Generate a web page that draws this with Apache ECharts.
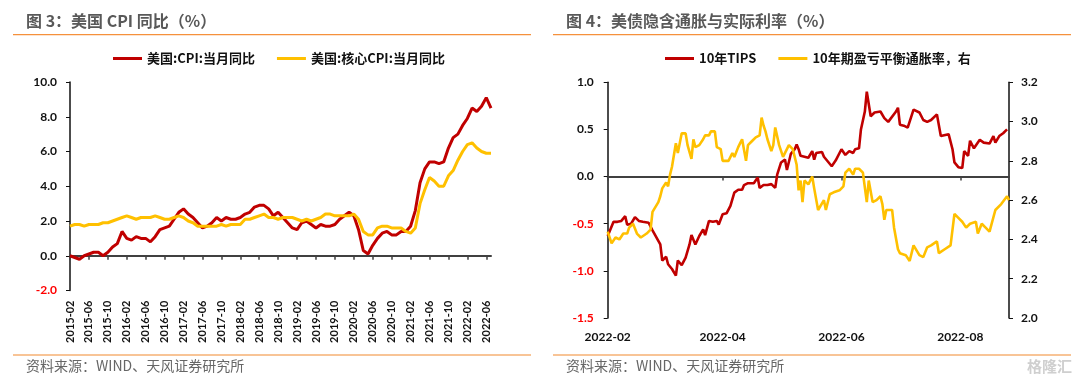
<!DOCTYPE html>
<html><head><meta charset="utf-8">
<script src="https://cdn.jsdelivr.net/npm/echarts@6/dist/echarts.min.js"></script>
<style>html,body{margin:0;padding:0;background:#fff}#c{width:1080px;height:383px}</style>
</head><body><div id="c"></div>
<script>
// ---------- Left chart: US CPI YoY ----------
const cpiMonths = [
 '2015-02','2015-03','2015-04','2015-05','2015-06','2015-07','2015-08','2015-09','2015-10','2015-11','2015-12',
 '2016-01','2016-02','2016-03','2016-04','2016-05','2016-06','2016-07','2016-08','2016-09','2016-10','2016-11','2016-12',
 '2017-01','2017-02','2017-03','2017-04','2017-05','2017-06','2017-07','2017-08','2017-09','2017-10','2017-11','2017-12',
 '2018-01','2018-02','2018-03','2018-04','2018-05','2018-06','2018-07','2018-08','2018-09','2018-10','2018-11','2018-12',
 '2019-01','2019-02','2019-03','2019-04','2019-05','2019-06','2019-07','2019-08','2019-09','2019-10','2019-11','2019-12',
 '2020-01','2020-02','2020-03','2020-04','2020-05','2020-06','2020-07','2020-08','2020-09','2020-10','2020-11','2020-12',
 '2021-01','2021-02','2021-03','2021-04','2021-05','2021-06','2021-07','2021-08','2021-09','2021-10','2021-11','2021-12',
 '2022-01','2022-02','2022-03','2022-04','2022-05','2022-06','2022-07'];
const cpiYoY = [
 0.0,-0.1,-0.2,0.0,0.1,0.2,0.2,0.0,0.2,0.5,0.7,
 1.4,1.0,0.9,1.1,1.0,1.0,0.8,1.1,1.5,1.6,1.7,2.1,
 2.5,2.7,2.4,2.2,1.9,1.6,1.7,1.9,2.2,2.0,2.2,2.1,
 2.1,2.2,2.4,2.5,2.8,2.9,2.9,2.7,2.3,2.5,2.2,1.9,
 1.6,1.5,1.9,2.0,1.8,1.6,1.8,1.7,1.7,1.8,2.1,2.3,
 2.5,2.3,1.5,0.3,0.1,0.6,1.0,1.3,1.4,1.2,1.2,1.4,
 1.4,1.7,2.6,4.2,5.0,5.4,5.4,5.3,5.4,6.2,6.8,7.0,
 7.5,7.9,8.5,8.3,8.6,9.1,8.5];
const coreYoY = [
 1.7,1.8,1.8,1.7,1.8,1.8,1.8,1.9,1.9,2.0,2.1,
 2.2,2.3,2.2,2.1,2.2,2.2,2.2,2.3,2.2,2.1,2.1,2.2,
 2.3,2.2,2.0,1.9,1.7,1.7,1.7,1.7,1.7,1.8,1.7,1.8,
 1.8,1.8,2.1,2.1,2.2,2.3,2.4,2.2,2.2,2.1,2.2,2.2,
 2.2,2.1,2.0,2.1,2.0,2.1,2.2,2.4,2.4,2.3,2.3,2.3,
 2.3,2.4,2.1,1.4,1.2,1.2,1.6,1.7,1.7,1.6,1.6,1.6,
 1.4,1.3,1.6,3.0,3.8,4.5,4.3,4.0,4.0,4.6,4.9,5.5,
 6.0,6.4,6.5,6.2,6.0,5.9,5.9];

// ---------- Right chart: 10Y TIPS and breakeven ----------
const tipsDates = ['2022-02-01','2022-02-04','2022-02-06','2022-02-08','2022-02-10','2022-02-11','2022-02-13','2022-02-15','2022-02-17','2022-02-19','2022-02-22','2022-02-24','2022-02-25','2022-02-28',
 '2022-03-01','2022-03-03','2022-03-04','2022-03-06','2022-03-08','2022-03-09','2022-03-11','2022-03-13','2022-03-15','2022-03-16','2022-03-18','2022-03-20','2022-03-22','2022-03-23','2022-03-25','2022-03-27','2022-03-29','2022-03-30','2022-03-31',
 '2022-04-01','2022-04-03','2022-04-05','2022-04-07','2022-04-09','2022-04-11','2022-04-12','2022-04-14','2022-04-17','2022-04-19','2022-04-20','2022-04-22','2022-04-24','2022-04-26','2022-04-28','2022-04-29',
 '2022-05-01','2022-05-03','2022-05-04','2022-05-06','2022-05-08','2022-05-09','2022-05-10','2022-05-11','2022-05-13','2022-05-15','2022-05-17','2022-05-18','2022-05-19','2022-05-22','2022-05-23','2022-05-25','2022-05-27','2022-05-29',
 '2022-06-01','2022-06-03','2022-06-05','2022-06-07','2022-06-08','2022-06-10','2022-06-11','2022-06-13','2022-06-14','2022-06-16','2022-06-18','2022-06-21','2022-06-23','2022-06-25','2022-06-26','2022-06-29','2022-06-30',
 '2022-07-01','2022-07-03','2022-07-05','2022-07-08','2022-07-11','2022-07-13','2022-07-15','2022-07-17','2022-07-20','2022-07-22','2022-07-26','2022-07-28','2022-07-29','2022-07-31',
 '2022-08-02','2022-08-03','2022-08-05','2022-08-06','2022-08-08','2022-08-11','2022-08-13','2022-08-16','2022-08-18','2022-08-19','2022-08-21','2022-08-23','2022-08-25'];
const tipsValues = [-0.63,-0.48,-0.48,-0.47,-0.42,-0.51,-0.50,-0.43,-0.47,-0.48,-0.49,-0.57,-0.59,-0.72,
 -0.89,-0.85,-0.93,-0.98,-1.05,-0.89,-0.94,-0.86,-0.72,-0.62,-0.72,-0.63,-0.56,-0.62,-0.47,-0.48,-0.47,-0.51,-0.53,
 -0.40,-0.39,-0.31,-0.17,-0.14,-0.14,-0.09,-0.07,-0.07,-0.01,-0.12,-0.09,-0.09,-0.08,-0.12,0.02,
 0.15,0.18,0.07,0.24,0.29,0.34,0.29,0.22,0.21,0.20,0.27,0.18,0.25,0.26,0.21,0.16,0.11,0.17,
 0.29,0.23,0.27,0.25,0.29,0.30,0.50,0.69,0.90,0.64,0.68,0.69,0.62,0.58,0.60,0.69,0.73,
 0.55,0.54,0.52,0.71,0.68,0.60,0.58,0.60,0.66,0.43,0.45,0.29,0.15,0.10,
 0.09,0.27,0.22,0.38,0.30,0.39,0.36,0.35,0.43,0.36,0.43,0.46,0.50];
const beDates = ['2022-02-01','2022-02-03','2022-02-05','2022-02-07','2022-02-09','2022-02-11','2022-02-12','2022-02-14','2022-02-16','2022-02-18','2022-02-21','2022-02-23','2022-02-24','2022-02-25','2022-02-27','2022-02-28',
 '2022-03-01','2022-03-03','2022-03-04','2022-03-05','2022-03-06','2022-03-08','2022-03-09','2022-03-11','2022-03-13','2022-03-14','2022-03-16','2022-03-17','2022-03-18','2022-03-20','2022-03-22','2022-03-23','2022-03-25','2022-03-26','2022-03-28','2022-03-29','2022-03-31',
 '2022-04-01','2022-04-04','2022-04-06','2022-04-07','2022-04-09','2022-04-10','2022-04-11','2022-04-13','2022-04-14','2022-04-16','2022-04-18','2022-04-20','2022-04-21','2022-04-22','2022-04-23','2022-04-24','2022-04-26','2022-04-27','2022-04-28','2022-04-30',
 '2022-05-02','2022-05-04','2022-05-05','2022-05-07','2022-05-09','2022-05-10','2022-05-11','2022-05-12','2022-05-13','2022-05-15','2022-05-17','2022-05-18','2022-05-20','2022-05-23','2022-05-24','2022-05-26','2022-05-28','2022-05-31',
 '2022-06-02','2022-06-03','2022-06-05','2022-06-07','2022-06-08','2022-06-10','2022-06-12','2022-06-13','2022-06-14','2022-06-15','2022-06-17','2022-06-19','2022-06-21','2022-06-22','2022-06-23','2022-06-24','2022-06-27','2022-06-28','2022-06-30',
 '2022-07-01','2022-07-04','2022-07-06','2022-07-08','2022-07-11','2022-07-13','2022-07-15','2022-07-17','2022-07-20','2022-07-21','2022-07-24','2022-07-27','2022-07-29','2022-07-31',
 '2022-08-02','2022-08-03','2022-08-04','2022-08-06','2022-08-09','2022-08-10','2022-08-12','2022-08-14','2022-08-16','2022-08-17','2022-08-19','2022-08-22','2022-08-23','2022-08-25','2022-08-26'];
const beValues = [2.44,2.38,2.41,2.40,2.43,2.43,2.46,2.48,2.43,2.41,2.43,2.45,2.54,2.54,2.59,2.62,
 2.66,2.69,2.67,2.73,2.77,2.89,2.84,2.94,2.94,2.88,2.81,2.91,2.87,2.88,2.91,2.93,2.93,2.95,2.95,2.87,2.86,
 2.80,2.80,2.84,2.82,2.87,2.89,2.91,2.80,2.88,2.90,2.92,2.93,3.02,2.98,2.95,2.91,2.85,2.88,2.97,2.88,
 2.82,2.86,2.88,2.86,2.78,2.65,2.70,2.59,2.70,2.68,2.72,2.66,2.55,2.60,2.55,2.63,2.64,2.65,
 2.67,2.74,2.76,2.73,2.76,2.76,2.74,2.73,2.59,2.70,2.59,2.60,2.62,2.58,2.50,2.55,2.55,2.46,2.35,
 2.33,2.32,2.29,2.37,2.32,2.31,2.36,2.37,2.39,2.33,2.35,2.37,2.53,2.51,
 2.49,2.50,2.46,2.48,2.49,2.43,2.48,2.46,2.44,2.45,2.55,2.58,2.59,2.62,2.60];
const rightTickDates = ['2022-02-01','2022-04-01','2022-06-01','2022-08-01'];
const rightRange = ['2022-02-01','2022-08-26'];

// ---------- Styling ----------
const RED = '#C00000', YEL = '#FFC000';
const NUMFONT = 'Lato, "Noto Sans", sans-serif';
const CJK = '"Noto Sans CJK SC", "Noto Sans", sans-serif';
const negRed = v => (+v < 0 ? '#FF0000' : '#111');
function ts(s){ const p = s.split('-').map(Number); return new Date(p[0], p[1]-1, p[2]).getTime(); }
const pad = n => (n < 10 ? '0' + n : '' + n);
const monthLabel = v => { const d = new Date(v); return d.getFullYear() + '-' + pad(d.getMonth() + 1); };

const chart = echarts.init(document.getElementById('c'), null, {renderer: 'canvas'});
const option = {
  animation: false,
  backgroundColor: '#fff',
  textStyle: {fontFamily: CJK},
  legend: [
    {data: ['美国:CPI:当月同比', '美国:核心CPI:当月同比'], left: 108, top: 47, icon: 'rect', itemWidth: 29, itemHeight: 3, itemGap: 22,
     textStyle: {fontFamily: CJK, fontWeight: 'bold', fontSize: 13, color: '#111'}},
    {data: ['10年TIPS', '10年期盈亏平衡通胀率，右'], left: 660, top: 47, icon: 'rect', itemWidth: 29, itemHeight: 3, itemGap: 22,
     textStyle: {fontFamily: CJK, fontWeight: 'bold', fontSize: 13, color: '#111'}}
  ],
  grid: [
    {left: 70, right: 589, top: 82, bottom: 92.5},
    {left: 607.7, right: 71, top: 82.3, bottom: 65}
  ],
  xAxis: [
    {type: 'category', gridIndex: 0, data: cpiMonths, boundaryGap: false,
     axisLine: {onZero: true, lineStyle: {color: '#404040', width: 2}},
     axisTick: {interval: 3, length: 4, lineStyle: {color: '#404040', width: 1.5}},
     axisLabel: {show: false}, splitLine: {show: false}},
    {type: 'category', gridIndex: 0, data: cpiMonths, boundaryGap: false, position: 'bottom',
     axisLine: {show: false, onZero: false}, axisTick: {show: false}, splitLine: {show: false},
     axisLabel: {interval: 3, rotate: 90, margin: 10, fontFamily: NUMFONT, fontWeight: 'bold', fontSize: 11, color: '#111'}},
    {type: 'value', gridIndex: 1, min: ts(rightRange[0]), max: ts(rightRange[1]), scale: true,
     axisLine: {onZero: true, lineStyle: {color: '#404040', width: 2}},
     axisTick: {show: true, length: 4, customValues: rightTickDates.map(ts), lineStyle: {color: '#404040', width: 1.5}},
     axisLabel: {show: false}, splitLine: {show: false}},
    {type: 'value', gridIndex: 1, min: ts(rightRange[0]), max: ts(rightRange[1]), scale: true, position: 'bottom',
     axisLine: {show: false, onZero: false}, axisTick: {show: false}, splitLine: {show: false},
     axisLabel: {customValues: rightTickDates.map(ts), margin: 13, fontFamily: NUMFONT, fontWeight: 'bold', fontSize: 12, color: '#111',
       formatter: monthLabel}}
  ],
  yAxis: [
    {type: 'value', gridIndex: 0, min: -2, max: 10, interval: 2,
     axisLine: {show: true, lineStyle: {color: '#111', width: 1.5}},
     axisTick: {show: true, length: 4, lineStyle: {color: '#111'}}, splitLine: {show: false},
     axisLabel: {margin: 13, fontFamily: NUMFONT, fontWeight: 'bold', fontSize: 12, color: negRed, formatter: v => v.toFixed(1)}},
    {type: 'value', gridIndex: 1, min: -1.5, max: 1.0, interval: 0.5, position: 'left',
     axisLine: {show: true, onZero: false, lineStyle: {color: '#111', width: 1.5}},
     axisTick: {show: true, length: 4, lineStyle: {color: '#111'}}, splitLine: {show: false},
     axisLabel: {margin: 14, fontFamily: NUMFONT, fontWeight: 'bold', fontSize: 12, color: negRed, formatter: v => v.toFixed(1)}},
    {type: 'value', gridIndex: 1, min: 2.0, max: 3.2, interval: 0.2, position: 'right',
     axisLine: {show: true, onZero: false, lineStyle: {color: '#111', width: 1.5}},
     axisTick: {show: true, length: 4, lineStyle: {color: '#111'}}, splitLine: {show: false},
     axisLabel: {margin: 12, fontFamily: NUMFONT, fontWeight: 'bold', fontSize: 12, color: '#111', formatter: v => v.toFixed(1)}}
  ],
  series: [
    {name: '美国:CPI:当月同比', type: 'line', xAxisIndex: 0, yAxisIndex: 0, data: cpiYoY, showSymbol: false, symbol: 'none',
     lineStyle: {color: RED, width: 3}, itemStyle: {color: RED}},
    {name: '美国:核心CPI:当月同比', type: 'line', xAxisIndex: 0, yAxisIndex: 0, data: coreYoY, showSymbol: false, symbol: 'none',
     lineStyle: {color: YEL, width: 3}, itemStyle: {color: YEL}},
    {name: '10年TIPS', type: 'line', xAxisIndex: 2, yAxisIndex: 1, data: tipsDates.map((d, i) => [ts(d), tipsValues[i]]), showSymbol: false, symbol: 'none',
     lineStyle: {color: RED, width: 2.6}, itemStyle: {color: RED}},
    {name: '10年期盈亏平衡通胀率，右', type: 'line', xAxisIndex: 2, yAxisIndex: 2, data: beDates.map((d, i) => [ts(d), beValues[i]]), showSymbol: false, symbol: 'none',
     lineStyle: {color: YEL, width: 2.6}, itemStyle: {color: YEL}}
  ],
  graphic: [
    {type: 'text', left: 26, top: 13, style: {text: '图 3：美国 CPI 同比（%）', fill: '#595959', font: 'bold 16px "Noto Sans CJK SC", sans-serif'}},
    {type: 'text', left: 566, top: 13, style: {text: '图 4：美债隐含通胀与实际利率（%）', fill: '#595959', font: 'bold 16px "Noto Sans CJK SC", sans-serif'}},
    {type: 'line', shape: {x1: 13, y1: 34.7, x2: 531, y2: 34.7}, style: {stroke: '#F5913C', lineWidth: 1.2}},
    {type: 'line', shape: {x1: 553, y1: 34.7, x2: 1071, y2: 34.7}, style: {stroke: '#F5913C', lineWidth: 1.2}},
    {type: 'line', shape: {x1: 13, y1: 355, x2: 531, y2: 355}, style: {stroke: '#F28A2E', lineWidth: 1.2}},
    {type: 'line', shape: {x1: 553, y1: 355, x2: 1071, y2: 355}, style: {stroke: '#F28A2E', lineWidth: 1.2}},
    {type: 'text', left: 26, top: 359, style: {text: '资料来源：WIND、天风证券研究所', fill: '#666', font: '14px "Noto Sans CJK SC", sans-serif'}},
    {type: 'text', left: 566, top: 359, style: {text: '资料来源：WIND、天风证券研究所', fill: '#666', font: '14px "Noto Sans CJK SC", sans-serif'}},
    {type: 'text', right: 8, top: 359, style: {text: '格隆汇', fill: '#cfcfcf', font: 'bold 15px "Noto Sans CJK SC", sans-serif'}}
  ]
};
chart.setOption(option);
</script></body></html>
